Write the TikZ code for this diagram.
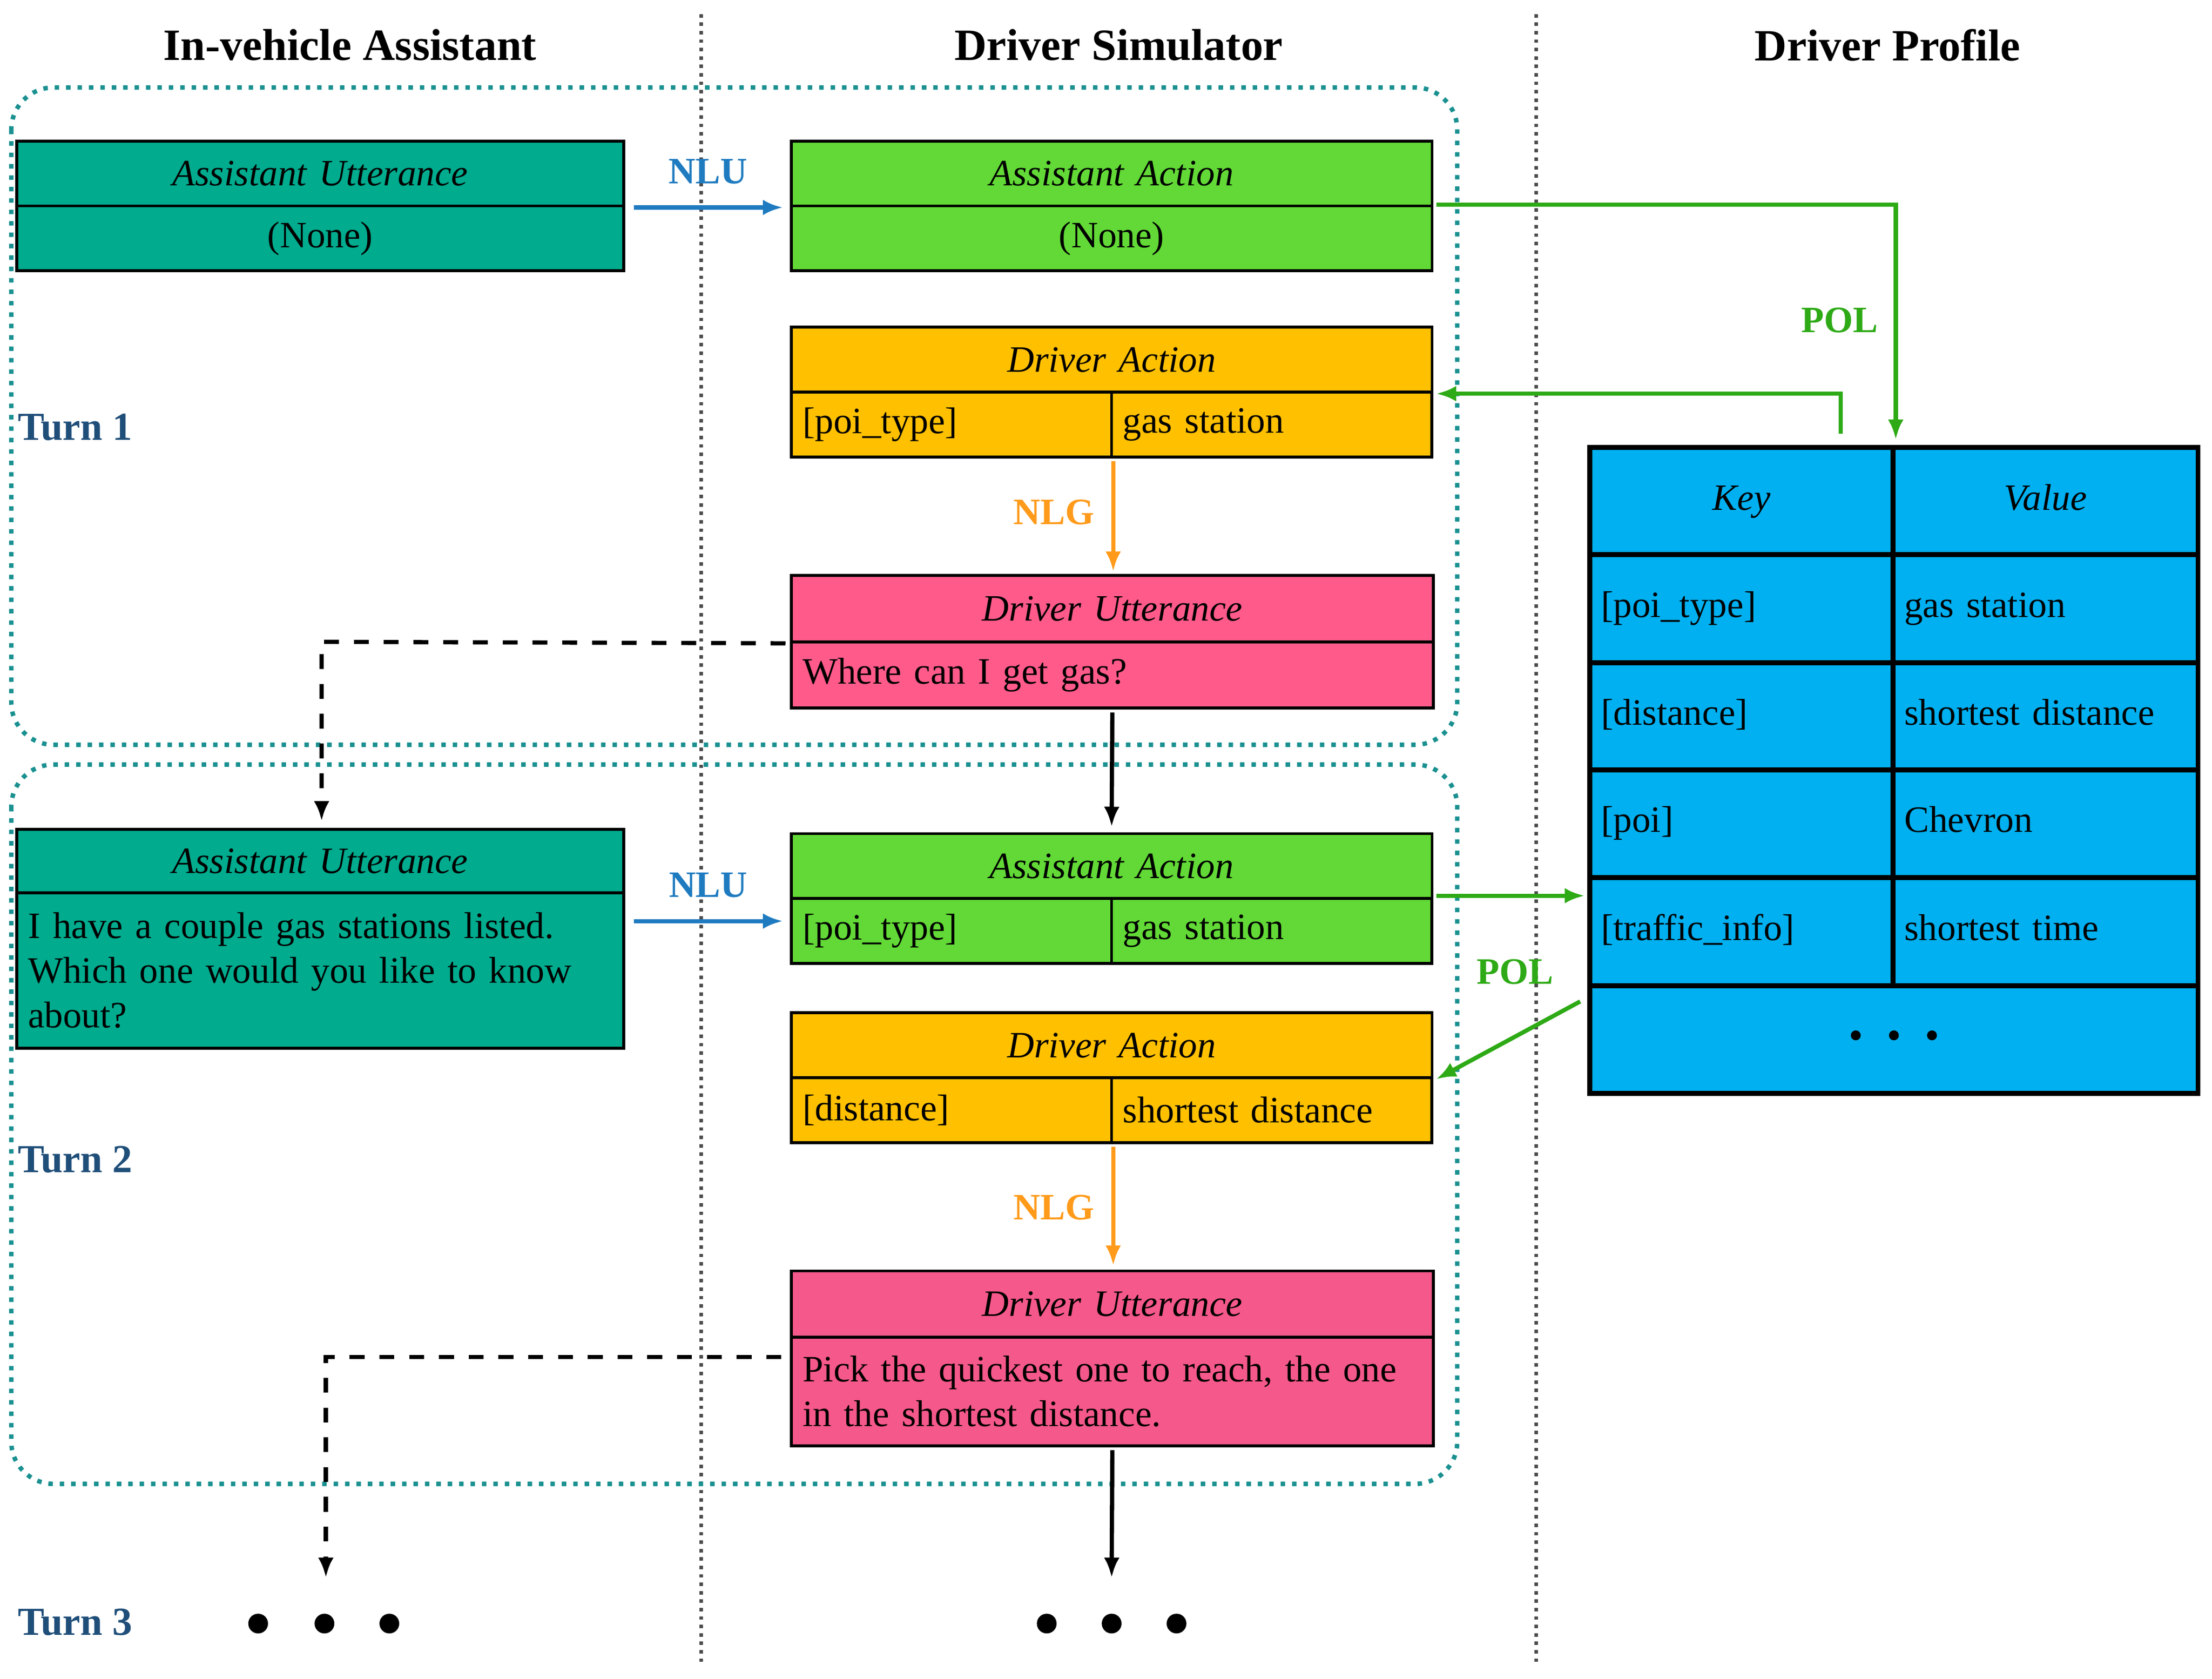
\documentclass[tikz,border=0pt]{standalone}
\usepackage{fontspec}
\setmainfont{Liberation Serif}
\usepackage{tikz}
\usetikzlibrary{arrows.meta, positioning}

\definecolor{assistcol}{HTML}{00AB8E}
\definecolor{actcol}{HTML}{62D936}
\definecolor{drvcol}{HTML}{FFC000}
\definecolor{uttcol}{HTML}{FF5A8A}
\definecolor{uttcolb}{HTML}{F5588A}
\definecolor{profcol}{HTML}{00B0F0}
\definecolor{turncol}{HTML}{1F4E79}
\definecolor{nlucol}{HTML}{1F7BC0}
\definecolor{polcol}{HTML}{2EAA16}
\definecolor{nlgcol}{HTML}{FF9A1A}
\definecolor{turnbox}{HTML}{1A9090}

\tikzset{
  cell/.style={draw, line width=0.6pt, inner xsep=0.08cm, inner ysep=0pt,
    font=\fontsize{7.5}{9}\selectfont, text width=#1, align=left,
    minimum height=0.46cm},
  ccell/.style={cell=#1, align=center},
  tcell/.style={draw, line width=1pt, inner xsep=0.08cm, inner ysep=0pt,
    font=\fontsize{7.5}{9}\selectfont, text width=#1, align=left,
    text height=0.18cm, text depth=0.06cm,
    minimum height=0.765cm, fill=profcol},
  head/.style={font=\fontsize{9}{11}\selectfont\bfseries},
  turn/.style={font=\fontsize{8}{10}\selectfont\bfseries, text=turncol, anchor=west, inner sep=0pt},
  lab/.style={font=\fontsize{7.5}{9}\selectfont\bfseries},
  arr/.style={line width=0.85pt, -{Latex[length=0.14cm,width=0.11cm]}},
  turnframe/.style={draw=turnbox, line width=0.9pt, rounded corners=0.3cm,
    dash pattern=on 0.9pt off 1.4pt},
  bigdot/.style={circle, fill=black, inner sep=0pt, minimum size=0.14cm},
}

\begin{document}
\begin{tikzpicture}[x=0.01cm, y=-0.01cm]
\useasboundingbox (0,0) rectangle (1568,1190);

% column titles and separators
\node[head] (h1) at (248,32) {In-vehicle Assistant};
\node[head] (h2) at (793,32) {Driver Simulator};
\node[head] (h3) at (1338,32) {Driver Profile};
\draw[densely dotted, line width=0.7pt, black!70] (497,10) -- (497,1180);
\draw[densely dotted, line width=0.7pt, black!70] (1089,10) -- (1089,1180);

% turn frames
\draw[turnframe] (8,62) rectangle (1033,528);
\draw[turnframe] (8,542) rectangle (1033,1052);

\node[turn] (t1) at (12,303) {Turn 1};
\node[turn] (t2) at (12,822) {Turn 2};
\node[turn] (t3) at (12,1150) {Turn 3};

% turn 1
\node[ccell=4.14cm, fill=assistcol] (au1h) at (227,123) {\itshape Assistant Utterance};
\node[ccell=4.14cm, fill=assistcol] (au1b) at (227,169) {(None)};
\node[ccell=4.38cm, fill=actcol] (aa1h) at (788,123) {\itshape Assistant Action};
\node[ccell=4.38cm, fill=actcol] (aa1b) at (788,169) {(None)};
\node[ccell=4.38cm, fill=drvcol] (da1h) at (788,255) {\itshape Driver Action};
\node[cell=2.11cm, fill=drvcol] (da1k) at (674.5,301) {[poi\_type]};
\node[cell=2.11cm, fill=drvcol] (da1v) at (901.5,301) {gas station};
\node[ccell=4.39cm, fill=uttcol, minimum height=0.47cm] (du1h) at (788.5,431.5) {\itshape Driver Utterance};
\node[cell=4.39cm, fill=uttcol, minimum height=0.47cm] (du1b) at (788.5,478.5) {Where can I get gas?};

% turn 2
\node[ccell=4.14cm, fill=assistcol, minimum height=0.45cm] (au2h) at (227,610.5) {\itshape Assistant Utterance};
\node[cell=4.14cm, fill=assistcol, minimum height=1.1cm] (au2b) at (227,688) {I have a couple gas stations listed. Which one would you like to know about?};
\node[ccell=4.38cm, fill=actcol] (aa2h) at (788,614) {\itshape Assistant Action};
\node[cell=2.11cm, fill=actcol] (aa2k) at (674.5,660) {[poi\_type]};
\node[cell=2.11cm, fill=actcol] (aa2v) at (901.5,660) {gas station};
\node[ccell=4.38cm, fill=drvcol] (da2h) at (788,741) {\itshape Driver Action};
\node[cell=2.11cm, fill=drvcol] (da2k) at (674.5,787) {[distance]};
\node[cell=2.11cm, fill=drvcol] (da2v) at (901.5,787) {shortest distance};
\node[ccell=4.39cm, fill=uttcolb, minimum height=0.47cm] (du2h) at (788.5,924.5) {\itshape Driver Utterance};
\node[cell=4.39cm, fill=uttcolb, minimum height=0.77cm] (du2b) at (788.5,986.5) {Pick the quickest one to reach, the one in the shortest distance.};

% profile table
\node[tcell=1.99cm, align=center] (k0) at (1234.5,355.5) {\itshape Key};
\node[tcell=2.00cm, align=center] (v0) at (1450,355.5) {\itshape Value};
\node[tcell=1.99cm] (k1) at (1234.5,431.5) {[poi\_type]};
\node[tcell=2.00cm] (v1) at (1450,431.5) {gas station};
\node[tcell=1.99cm] (k2) at (1234.5,508) {[distance]};
\node[tcell=2.00cm] (v2) at (1450,508) {shortest distance};
\node[tcell=1.99cm] (k3) at (1234.5,584) {[poi]};
\node[tcell=2.00cm] (v3) at (1450,584) {Chevron};
\node[tcell=1.99cm] (k4) at (1234.5,660.5) {[traffic\_info]};
\node[tcell=2.00cm] (v4) at (1450,660.5) {shortest time};
\node[tcell=4.15cm, align=center] (k5) at (1342.5,737) {};
\foreach \i in {-1,0,1}
  \fill ([xshift=\i*0.27cm,yshift=0.03cm]k5.center) circle (0.035cm);

% NLU arrows
\draw[arr, nlucol] ([xshift=0.06cm]au1h.south east) -- ([xshift=-0.05cm]aa1h.south west)
  node[midway, above=1pt, lab] {NLU};
\coordinate (n2) at (0,653);
\draw[arr, nlucol] ([xshift=0.06cm]au2h.east |- n2) -- ([xshift=-0.05cm]aa2k.west |- n2)
  node[midway, above=1pt, lab] {NLU};

% POL arrows
\draw[arr, polcol] ([xshift=0.02cm,yshift=0.02cm]aa1h.south east) -| ([yshift=0.04cm]k0.north east);
\node[lab, text=polcol] (pol1) at (1304,227) {POL};
\draw[arr, polcol] ([xshift=-0.39cm,yshift=0.08cm]k0.north east) |- ([xshift=0.02cm]da1h.south east);
\coordinate (p3) at (0,635);
\draw[arr, polcol] ([xshift=0.02cm]aa2h.east |- p3) -- ([xshift=-0.02cm]k4.west |- p3);
\draw[arr, polcol] ([xshift=-0.05cm,yshift=-0.13cm]k5.north west) -- ([xshift=0.02cm]da2h.south east);
\node[lab, text=polcol] (pol2) at (1074,689) {POL};

% NLG arrows
\draw[arr, nlgcol] ([yshift=-0.02cm]da1k.south east) -- ([yshift=0.02cm]du1h.north -| da1k.south east);
\node[lab, text=nlgcol] (nlg1) at (747,363) {NLG};
\draw[arr, nlgcol] ([yshift=-0.02cm]da2k.south east) -- ([yshift=0.03cm]du2h.north -| da2k.south east);
\node[lab, text=nlgcol] (nlg2) at (747,856) {NLG};

% turn to turn
\coordinate (e1) at (228,455);
\coordinate (e2) at (231,962);
\draw[arr, dashed] ([xshift=-0.03cm]du1h.south west) -- (e1) -- ([yshift=0.05cm]au2h.north -| e1);
\draw[arr] ([yshift=-0.02cm]du1b.south) -- ([yshift=0.04cm]aa2h.north);
\node[bigdot] (d1) at (183,1151) {};
\node[bigdot] (d2) at (230,1151) {};
\node[bigdot] (d3) at (276,1151) {};
\node[bigdot] (d4) at (742,1151) {};
\node[bigdot] (d5) at (788,1151) {};
\node[bigdot] (d6) at (834,1151) {};
\draw[arr, dashed] ([xshift=-0.06cm]du2h.south west |- e2) -- (e2) -- ([yshift=0.25cm]d2.north -| e2);
\draw[arr] ([yshift=-0.02cm]du2b.south) -- ([yshift=0.25cm]d5.north);
\end{tikzpicture}
\end{document}
